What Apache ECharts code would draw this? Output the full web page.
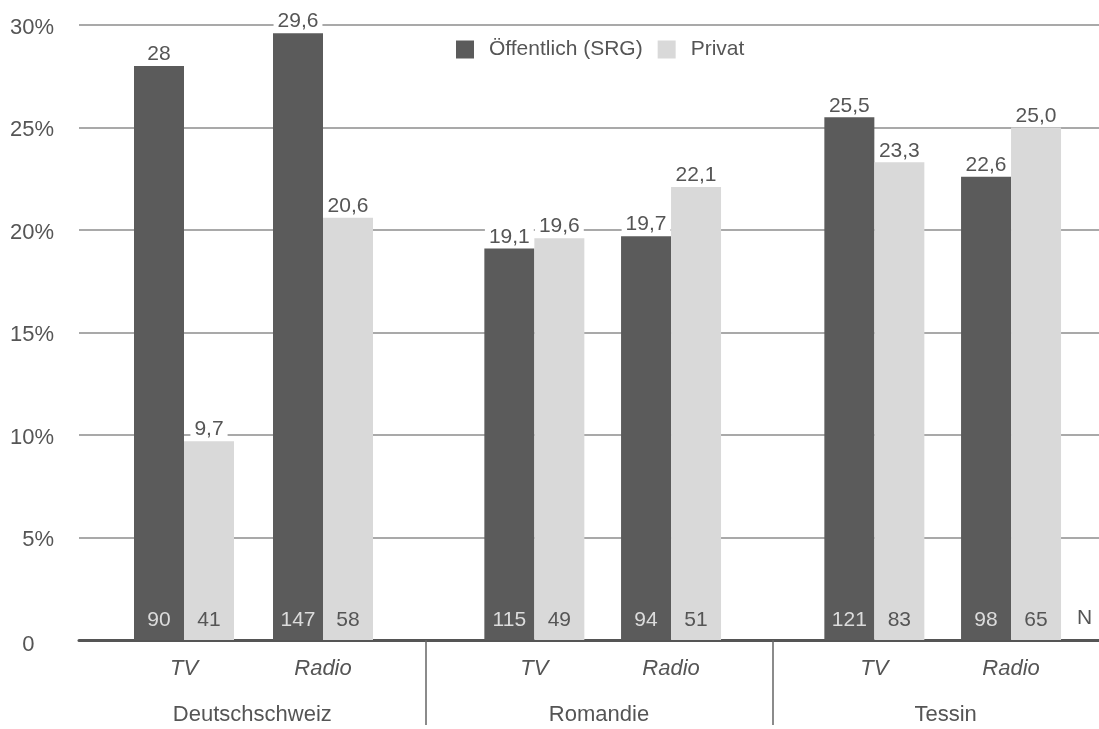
<!DOCTYPE html>
<html>
<head>
<meta charset="utf-8">
<script src="https://cdn.jsdelivr.net/npm/echarts@6/dist/echarts.min.js"></script>
<style>
html,body{margin:0;padding:0;background:#fff;}
#chart{width:1099px;height:729px;}
</style>
</head>
<body>
<div id="chart"></div>
<script>
// ---- data ----
const regions = ['Deutschschweiz', 'Romandie', 'Tessin'];
const media = ['TV', 'Radio'];
const seriesNames = ['Öffentlich (SRG)', 'Privat'];
// order: region x media (DS TV, DS Radio, Ro TV, Ro Radio, Te TV, Te Radio)
const publicValues  = [28, 29.6, 19.1, 19.7, 25.5, 22.6];
const privateValues = [9.7, 20.6, 19.6, 22.1, 23.3, 25.0];
const publicLabels  = ['28', '29,6', '19,1', '19,7', '25,5', '22,6'];
const privateLabels = ['9,7', '20,6', '19,6', '22,1', '23,3', '25,0'];
const publicN  = [90, 147, 115, 94, 121, 98];
const privateN = [41, 58, 49, 51, 83, 65];
const yTickValues = [0, 5, 10, 15, 20, 25, 30];

// ---- styling ----
const FONT = "'Liberation Sans', Arial, sans-serif";
const TEXT = '#555';
const DARK = '#5b5b5b';
const LIGHT = '#d9d9d9';
const regionGrids = [
  {left: 114.5, width: 278},
  {left: 466, width: 273.4},
  {left: 806, width: 273.4}
];

const grids = [{left: 79, top: 25, width: 1040, height: 615, outerBoundsMode: 'none', containLabel: false}];
const xAxes = [{
  gridIndex: 0, type: 'category', data: regions,
  axisLine: {show: true, lineStyle: {color: '#555', width: 3}},
  axisTick: {show: true, interval: function (i) { return i > 0; }, length: 85,
             lineStyle: {color: '#666', width: 1.5}},
  axisLabel: {margin: 64, fontSize: 22, color: TEXT, fontFamily: FONT},
  splitLine: {show: false}
}];
const yAxes = [{
  gridIndex: 0, type: 'value',
  min: yTickValues[0], max: yTickValues[yTickValues.length - 1],
  interval: yTickValues[1] - yTickValues[0],
  axisLine: {show: false}, axisTick: {show: false},
  splitLine: {lineStyle: {color: '#8c8c8c', width: 1.5}},
  axisLabel: {
    margin: 25, fontSize: 22, color: TEXT, fontFamily: FONT, padding: [5, 0, 0, 0],
    formatter: function (v) { return v === 0 ? '{z|0}{h|%}' : v + '%'; },
    rich: {
      z: {fontSize: 22, color: TEXT, fontFamily: FONT, padding: [5, 0, 0, 0]},
      h: {fontSize: 22, color: 'rgba(0,0,0,0)', fontFamily: FONT, padding: [5, 0, 0, 0]}
    }
  }
}];
const series = [];

regions.forEach(function (reg, k) {
  const gi = k + 1;
  grids.push({left: regionGrids[k].left, width: regionGrids[k].width, top: 25, height: 615, outerBoundsMode: 'none'});
  xAxes.push({
    gridIndex: gi, type: 'category', data: media,
    axisLine: {show: false}, axisTick: {show: false},
    axisLabel: {margin: 18, fontSize: 22, fontStyle: 'italic', color: TEXT, fontFamily: FONT},
    splitLine: {show: false}
  });
  yAxes.push({
    gridIndex: gi, type: 'value',
    min: yTickValues[0], max: yTickValues[yTickValues.length - 1],
    show: false, splitLine: {show: false}
  });
  const idx = [2 * k, 2 * k + 1];
  const groups = [
    {name: seriesNames[0], color: DARK, values: publicValues, labels: publicLabels, n: publicN, nColor: '#dcdcdc', stack: 'pub' + k},
    {name: seriesNames[1], color: LIGHT, values: privateValues, labels: privateLabels, n: privateN, nColor: '#555', stack: 'priv' + k}
  ];
  groups.forEach(function (g) {
    // zero-height carrier at the baseline holding the N label
    series.push({
      type: 'bar', name: g.name, xAxisIndex: gi, yAxisIndex: gi, stack: g.stack,
      barWidth: 50, barGap: '0%', z: 5, silent: true,
      itemStyle: {color: g.color},
      data: idx.map(function () { return 0; }),
      label: {
        show: true, position: 'top', distance: 9,
        fontSize: 21, color: g.nColor, fontFamily: FONT,
        formatter: function (p) { return String(g.n[idx[p.dataIndex]]); }
      }
    });
    series.push({
      type: 'bar', name: g.name, xAxisIndex: gi, yAxisIndex: gi, stack: g.stack,
      barWidth: 50, barGap: '0%',
      itemStyle: {color: g.color},
      data: idx.map(function (i) { return g.values[i]; }),
      label: {
        show: true, position: 'top', distance: 1,
        fontSize: 21, color: TEXT, fontFamily: FONT,
        backgroundColor: '#fff', padding: [1, 4, 0, 4],
        formatter: function (p) { return g.labels[idx[p.dataIndex]]; }
      }
    });
  });
});

const chart = echarts.init(document.getElementById('chart'), null, {renderer: 'canvas'});
chart.setOption({
  backgroundColor: '#fff',
  animation: false,
  textStyle: {fontFamily: FONT},
  title: {
    text: 'N', left: 1077, top: 608, padding: 0,
    textStyle: {fontSize: 21, fontWeight: 'normal', color: TEXT, fontFamily: FONT}
  },
  legend: {
    data: seriesNames, left: 451, top: 34,
    icon: 'path://M0,0H10V10H0Z', itemWidth: 38, itemHeight: 18, itemGap: 15,
    textStyle: {fontSize: 21, color: TEXT, fontFamily: FONT}
  },
  grid: grids,
  xAxis: xAxes,
  yAxis: yAxes,
  series: series
});
</script>
</body>
</html>
